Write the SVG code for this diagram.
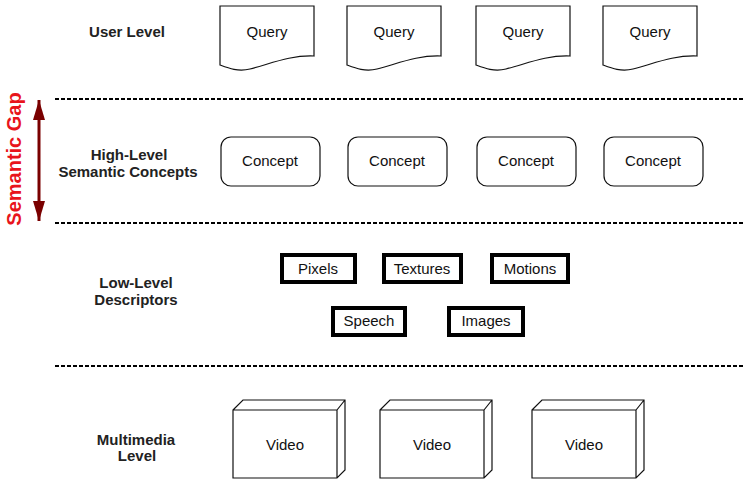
<svg xmlns="http://www.w3.org/2000/svg" width="743" height="481" viewBox="0 0 743 481">
<style>
.lbl{font-family:"Liberation Sans",Arial,sans-serif;font-weight:bold;font-size:15px;fill:#222;text-anchor:middle}
.nt{font-family:"Liberation Sans",Arial,sans-serif;font-size:15px;fill:#111;text-anchor:middle}
.shape{fill:#fff;stroke:#111;stroke-width:1.2}
.thick{fill:#fff;stroke:#000;stroke-width:4}
.dash{stroke:#000;stroke-width:2;stroke-dasharray:4 2;fill:none}
</style>
<defs>
<marker id="ah" viewBox="0 0 20 12" refX="20" refY="6" markerWidth="20" markerHeight="12" orient="auto-start-reverse" markerUnits="userSpaceOnUse">
<path d="M0,0 L20,6 L0,12 z" fill="#7a0000"/>
</marker>
<path id="doc" d="M0,0 H94 V50 C70,49 50,58 30,63 C18,66 8,62 0,59 Z"/>
<path id="box" d="M0,10 L10,0 H112 V70 L104,78 H0 Z M0,10 H104 V78 M104,10 L112,0"/>
</defs>
<rect width="743" height="481" fill="#fff"/>

<g id="levels">
<text class="lbl" x="127" y="37">User Level</text>
<text class="lbl" x="129" y="160">High-Level</text>
<text class="lbl" x="128" y="177">Semantic Concepts</text>
<text class="lbl" x="136" y="288">Low-Level</text>
<text class="lbl" x="136" y="305">Descriptors</text>
<text class="lbl" x="136" y="445">Multimedia</text>
<text class="lbl" x="137" y="461">Level</text>
</g>

<g id="separators">
<line class="dash" x1="55" y1="99" x2="743" y2="99"/>
<line class="dash" x1="55" y1="223" x2="743" y2="223"/>
<line class="dash" x1="55" y1="366" x2="743" y2="366"/>
</g>

<g id="semantic-gap">
<line x1="39" y1="100" x2="39" y2="221" stroke="#7a0000" stroke-width="3" marker-start="url(#ah)" marker-end="url(#ah)"/>
<text x="21" y="159" transform="rotate(-90 21 159)" font-family="Liberation Sans,Arial,sans-serif" font-weight="bold" font-size="20" fill="#e8141b" text-anchor="middle">Semantic Gap</text>
</g>

<g id="query1"><use href="#doc" class="shape" x="220" y="6"/><text class="nt" x="267" y="37">Query</text></g>
<g id="query2"><use href="#doc" class="shape" x="347" y="6"/><text class="nt" x="394" y="37">Query</text></g>
<g id="query3"><use href="#doc" class="shape" x="476" y="6"/><text class="nt" x="523" y="37">Query</text></g>
<g id="query4"><use href="#doc" class="shape" x="603" y="6"/><text class="nt" x="650" y="37">Query</text></g>

<g id="concept1"><rect class="shape" x="221" y="137" width="99" height="49" rx="10"/><text class="nt" x="270" y="166">Concept</text></g>
<g id="concept2"><rect class="shape" x="348" y="137" width="99" height="49" rx="10"/><text class="nt" x="397" y="166">Concept</text></g>
<g id="concept3"><rect class="shape" x="477" y="137" width="99" height="49" rx="10"/><text class="nt" x="526" y="166">Concept</text></g>
<g id="concept4"><rect class="shape" x="604" y="137" width="99" height="49" rx="10"/><text class="nt" x="653" y="166">Concept</text></g>

<g id="pixels"><rect class="thick" x="282" y="255" width="73" height="27"/><text class="nt" x="318" y="274">Pixels</text></g>
<g id="textures"><rect class="thick" x="384" y="255" width="77" height="27"/><text class="nt" x="422" y="274">Textures</text></g>
<g id="motions"><rect class="thick" x="492" y="255" width="76" height="27"/><text class="nt" x="530" y="274">Motions</text></g>
<g id="speech"><rect class="thick" x="333" y="308" width="72" height="27"/><text class="nt" x="369" y="326">Speech</text></g>
<g id="images"><rect class="thick" x="449" y="308" width="74" height="27"/><text class="nt" x="486" y="326">Images</text></g>

<g id="video1"><use href="#box" class="shape" x="233" y="400"/><text class="nt" x="285" y="450">Video</text></g>
<g id="video2"><use href="#box" class="shape" x="380" y="400"/><text class="nt" x="432" y="450">Video</text></g>
<g id="video3"><use href="#box" class="shape" x="532" y="400"/><text class="nt" x="584" y="450">Video</text></g>
</svg>
